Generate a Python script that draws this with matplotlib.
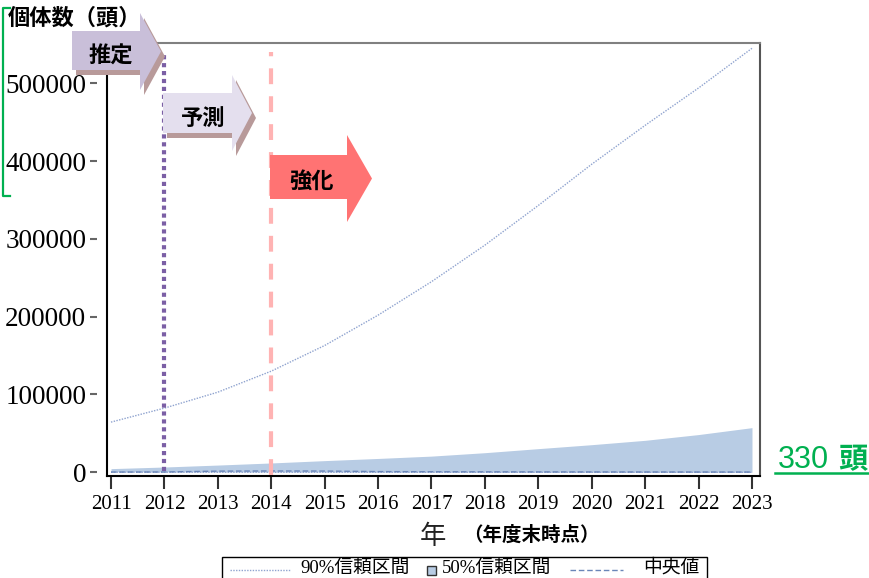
import numpy as np
import matplotlib
matplotlib.use('Agg')
import matplotlib.pyplot as plt
from matplotlib.patches import Polygon, Rectangle
from matplotlib.lines import Line2D

# population forecast (head count, end of fiscal year)
years      = [2011, 2012, 2013, 2014, 2015, 2016, 2017, 2018, 2019, 2020, 2021, 2022, 2023]
upper90    = [64500, 82500, 103000, 130000, 163000, 202000, 245000, 292000, 343000, 396000, 446000, 494000, 545000]
lower90    = [200, 150, 120, 100, 80, 60, 50, 40, 30, 25, 20, 15, 10]
upper50    = [4700, 6800, 9300, 12000, 15000, 17800, 20800, 25200, 30400, 35500, 41100, 48500, 57400]
lower50    = [600, 500, 400, 350, 300, 250, 200, 160, 130, 100, 80, 60, 50]
median     = [300, 400, 1500, 1700, 1600, 900, 700, 600, 500, 450, 400, 360, 330]
yticks     = [0, 100000, 200000, 300000, 400000, 500000]
est_year   = 2012
fcst_year  = 2014
final_txt  = '330'

W, H = 870, 578
JP = 'Noto Sans CJK JP'
SERIF_JP = ['Liberation Serif', JP]
plt.rcParams['font.family'] = SERIF_JP

BAND_C   = '#b8cce4'
CI90_C   = '#8fa3cf'
MED_C    = '#6a86b8'
GREEN    = '#00b050'

def px(x, y):
  # pixel position (top-left origin) -> figure fraction
  return (x / W, 1 - y / H)

def arrow_poly(x0, x1, x2, yt, yb, ht, hb, dx=0, dy=0):
  pts = [(x0, yt), (x1, yt), (x1, ht), (x2, (ht + hb) / 2), (x1, hb), (x1, yb), (x0, yb)]
  return [px(x + dx, y + dy) for x, y in pts]

def fig_line(pts, **kw):
  xs, ys = zip(*[px(x, y) for x, y in pts])
  fig.add_artist(Line2D(xs, ys, **kw))

fig = plt.figure(figsize=(8.7, 5.78), dpi=100)
ax  = fig.add_axes([107 / W, 1 - 476 / H, (760 - 107) / W, (476 - 43) / H])

# y ticks sit a little away from the axis line (set before the tick styling, it resets ticks)
ax.spines['left'].set_position(('outward', 7))
ax.spines['left'].set_visible(False)
ax.plot([0, 0], [0, 1], transform=ax.transAxes, color='black', lw=1.5, clip_on=False, zorder=5)

ax.fill_between(years, lower50, upper50, color=BAND_C, lw=0, zorder=1)
ax.plot(years, upper90, color=CI90_C, lw=1, ls=(0, (1, 1)), zorder=2)
ax.plot(years, lower90, color=CI90_C, lw=1, ls=(0, (1, 1)), zorder=2)
ax.plot(years, median, color=MED_C, lw=1, ls=(0, (4, 2)), zorder=2)

ax.vlines(est_year, 1500, 540000, color='#7b5fa5', lw=3, ls=(0, (1, 0.9)), zorder=4)
ax.vlines(fcst_year, -3500, 540000, color='#ffb3b3', lw=3, ls=(0, (3.8, 2.9)), zorder=3)

ax.set_xlim(2010.925, 2023.15)
ax.set_ylim(-4760, 551800)
ax.set_xticks(years)
ax.set_xticklabels([str(y) for y in years])
ax.set_yticks(yticks)
ax.set_yticklabels([str(v) for v in yticks])
ax.tick_params(axis='y', length=5, width=1.5, color='#666666', pad=3, labelsize=19.5)
ax.tick_params(axis='x', length=9, width=1.5, color='#333333', pad=5, labelsize=15)
ax.spines['bottom'].set_linewidth(1.5)
ax.spines['top'].set_color('#808080')
ax.spines['top'].set_linewidth(1.5)
ax.spines['right'].set_color('#555555')
ax.spines['right'].set_linewidth(1.5)

# axis titles
fig.text(*px(8, 18), '個体数（頭）', family=JP, fontsize=16, weight='bold', va='center', ha='left')
fig.text(*px(433, 536), '年', family=JP, fontsize=19, va='center', ha='center', color='#222222')
fig.text(*px(531, 535), '（年度末時点）', family=JP, fontsize=14, weight='bold', va='center', ha='center')

# phase arrows
fig.patches.append(Polygon(arrow_poly(72, 140, 161, 31, 70, 13, 90, 4, 5), closed=True,
                           transform=fig.transFigure, fc='#b89a9a', ec='none', zorder=5))
fig.patches.append(Polygon(arrow_poly(72, 140, 161, 31, 70, 13, 90), closed=True,
                           transform=fig.transFigure, fc='#c9bfd9', ec='none', zorder=6))
fig.patches.append(Polygon(arrow_poly(163, 232, 252, 93, 133, 75, 151, 4, 5), closed=True,
                           transform=fig.transFigure, fc='#b89a9a', ec='none', zorder=5))
fig.patches.append(Polygon(arrow_poly(163, 232, 252, 93, 133, 75, 151), closed=True,
                           transform=fig.transFigure, fc='#e4dfee', ec='none', zorder=6))
fig.patches.append(Polygon(arrow_poly(270, 347, 372, 155, 199, 135, 222), closed=True,
                           transform=fig.transFigure, fc='#ff7373', ec='none', zorder=6))
fig.text(*px(111, 56), '推定', family=JP, fontsize=16, weight='bold', ha='center', va='center', zorder=7)
fig.text(*px(203, 118), '予測', family=JP, fontsize=16, weight='bold', ha='center', va='center', zorder=7)
fig.text(*px(311, 181), '強化', family=JP, fontsize=16, weight='bold', ha='center', va='center', zorder=7)

# green bracket on the left
fig_line([(10, 8), (3, 8), (3, 196), (10, 196)], color=GREEN, lw=1.6)

# final median value
fig.text(*px(778, 468), final_txt, family='Liberation Sans', fontsize=22, color=GREEN, va='baseline')
fig.text(*px(838, 468), '頭', family=JP, fontsize=21, weight='bold', color=GREEN, va='baseline')
fig_line([(775, 473), (868, 473)], color=GREEN, lw=1.8)

# legend box along the bottom edge
fig.patches.append(Rectangle(px(222, 600), (707 - 222) / W, (600 - 557) / H,
                             transform=fig.transFigure, fc='white', ec='black', lw=1, zorder=8))
fig_line([(230, 570), (290, 570)], color=CI90_C, lw=1, ls=(0, (1, 1)), zorder=9)
fig.text(*px(300, 568), '90%信頼区間', family=SERIF_JP, fontsize=13.5, va='center', ha='left', zorder=9)
fig.patches.append(Rectangle(px(427, 575), 9 / W, 9 / H, transform=fig.transFigure,
                             fc=BAND_C, ec='#333333', lw=1, zorder=9))
fig.text(*px(442, 568), '50%信頼区間', family=SERIF_JP, fontsize=13.5, va='center', ha='left', zorder=9)
fig_line([(570, 570), (623, 570)], color=MED_C, lw=1, ls=(0, (4, 2)), zorder=9)
fig.text(*px(643, 568), '中央値', family=SERIF_JP, fontsize=13.5, va='center', ha='left', zorder=9)

plt.savefig('out.png', dpi=100)
plt.close()
